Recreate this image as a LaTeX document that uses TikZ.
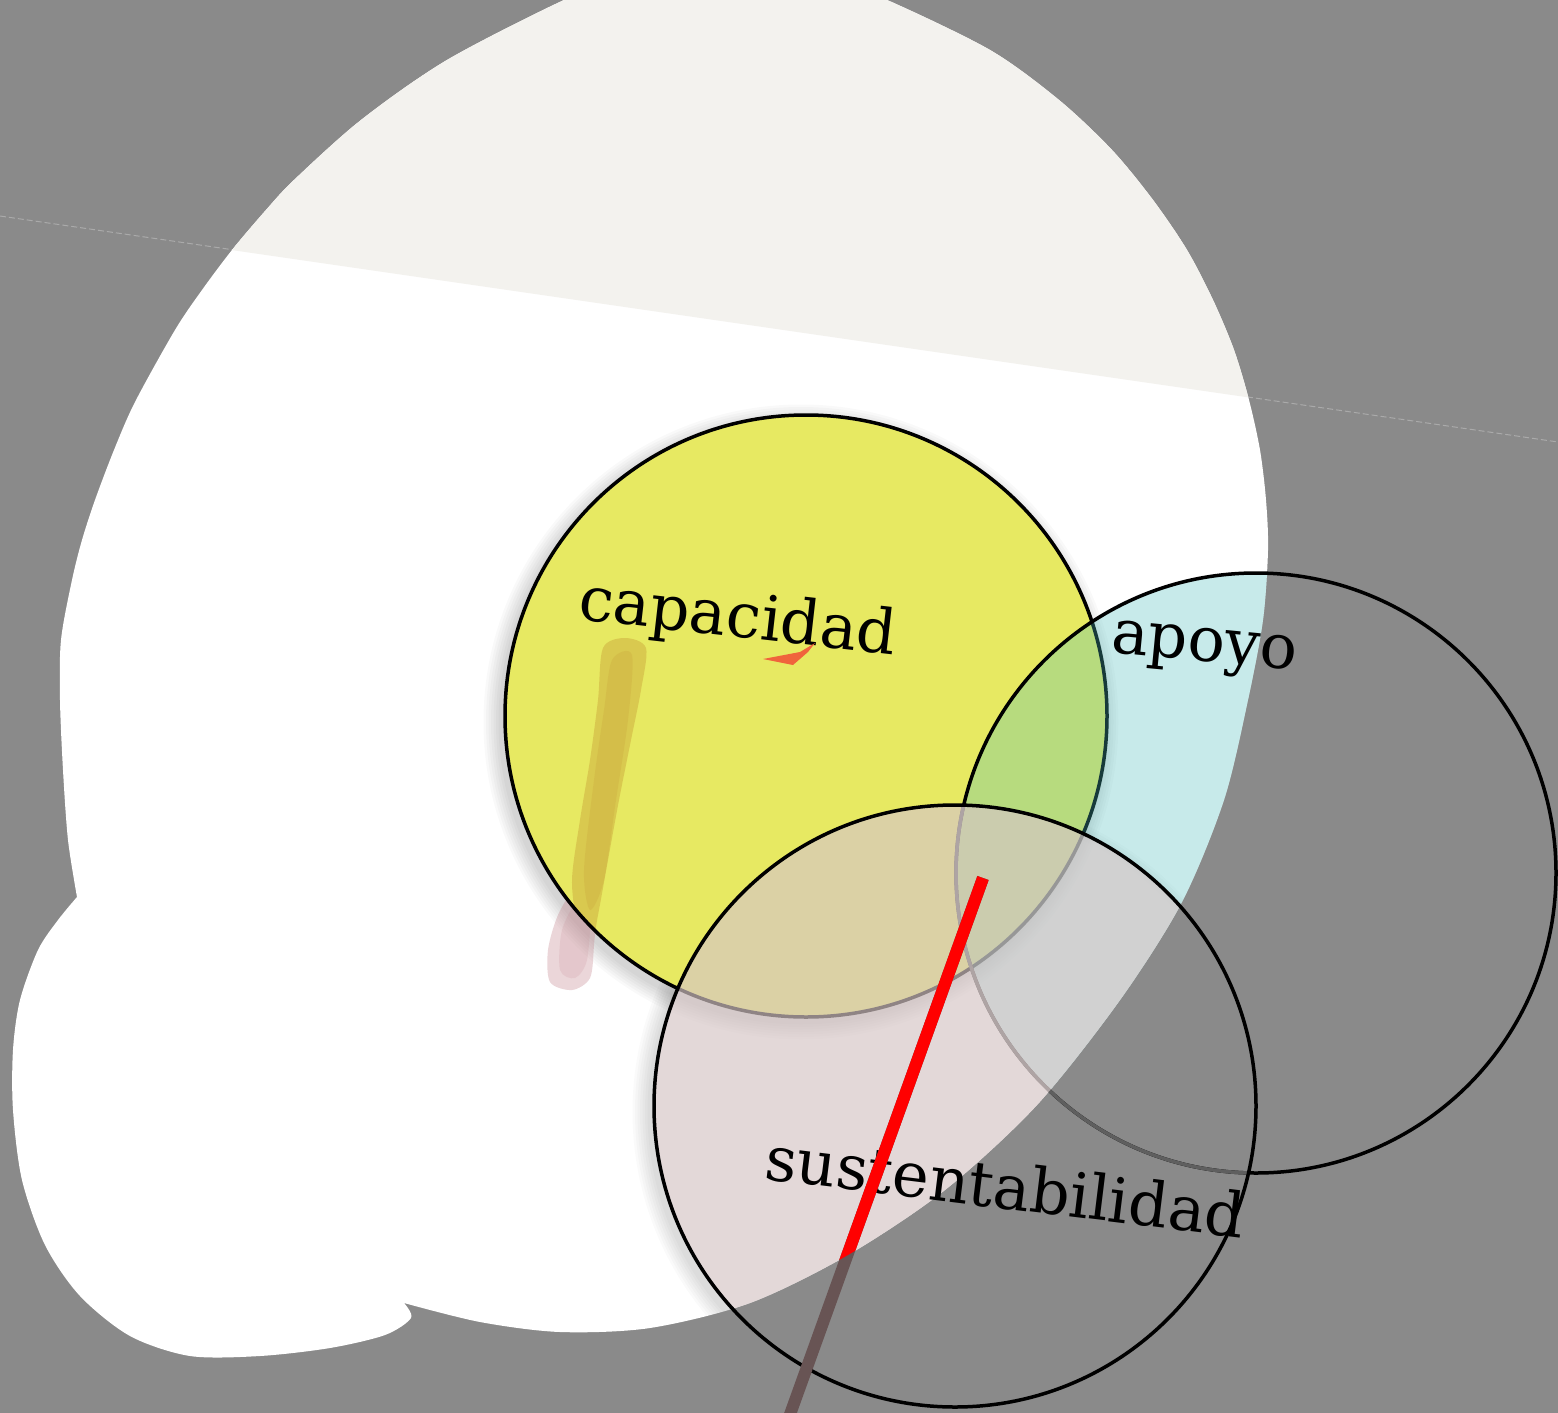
\documentclass[tikz,border=0pt]{standalone}
\usepackage{fontspec}
\setmainfont{DejaVu Serif}
\usetikzlibrary{calc}
\definecolor{bggray}{RGB}{138,138,138}
\definecolor{offw}{RGB}{243,242,238}
\definecolor{capy}{RGB}{231,233,98}
\definecolor{apc}{RGB}{77,190,190}
\definecolor{susc}{RGB}{214,198,198}
\definecolor{redl}{RGB}{255,0,0}
\definecolor{brownl}{RGB}{104,84,84}
\definecolor{dashc}{RGB}{170,170,170}
\definecolor{smudgey}{RGB}{195,150,50}
\definecolor{smudgep}{RGB}{190,120,130}
\definecolor{sliver}{RGB}{240,100,60}
\definecolor{innerarc}{RGB}{95,95,95}
\newcommand\blobshape{(77,897) -- plot[smooth] coordinates {(77,897) (68,840) (63,770) (60,700) (61,640) (72,580) (82,540) (95,500) (114,450) (135,402) (175,330) (202,290) (232,250) (266,210) (294,180) (361,120) (447,60) (564,0) (624,-22) (688,-38) (768,-30) (840,-15) (887,0) (990,50) (1059,100) (1112,150) (1153,200) (1187,250) (1213,300) (1234,350) (1249,400) (1260,450) (1266,500) (1268,550) (1263,620) (1248,700) (1224,800) (1182,902) (1120,1000) (1037,1105) (945,1190) (848,1255) (750,1303) (650,1328) (560,1332) (480,1322) (404,1303)} -- plot[smooth] coordinates {(404,1303) (411,1318) (385,1335) (330,1348) (260,1356) (190,1356) (130,1336) (80,1296) (45,1245) (22,1180) (13,1110) (13,1050) (20,1000) (38,950) (58,920) (77,897)} -- cycle}
\tikzset{
  lbl/.style={font=\fontsize{62}{74}\selectfont, inner sep=0pt, text=black, anchor=base west},
  ring/.style={line width=3.5pt, draw=black},
}
\begin{document}
\begin{tikzpicture}[x=1pt, y=-1pt]
\useasboundingbox (0,0) rectangle (1558,1413);
\fill[bggray] (0,0) rectangle (1558,1413);
\draw[dashc, line width=1pt, dash pattern=on 6pt off 3pt] (0,216) -- (1558,442);
\fill[white] \blobshape;
\coordinate (cap) at (806,716);
\coordinate (apo) at (1256,873);
\coordinate (sus) at (955,1106);
\coordinate (rtop) at (983,878);
\coordinate (rbot) at (788,1420);
\begin{scope}
  \clip \blobshape;
  \fill[offw] (-10,-60) -- (1570,-60) -- (1570,444) -- (-10,215) -- cycle;
  % soft shadows (rings only)
  \foreach \i in {1,...,7} {
    \fill[black, opacity=0.022, even odd rule] ($(cap)+(-5,6)$) circle ({300+2.5*\i}) (cap) circle (300);
    \fill[black, opacity=0.018, even odd rule] ($(sus)+(-5,6)$) circle ({300+2.5*\i}) (sus) circle (300);
  }
  % pink smudge below the yellow circle
  \fill[smudgep, opacity=0.3] plot[smooth cycle] coordinates {(575,890) (596,900) (594,945) (590,978) (572,990) (550,982) (548,950) (558,915)};
  \fill[smudgep, opacity=0.15] plot[smooth cycle] coordinates {(578,900) (590,910) (587,960) (575,978) (560,970) (562,930)};
\end{scope}
% yellow circle
\fill[capy] (cap) circle (301);
\begin{scope}
  \clip (cap) circle (301);
  \fill[smudgey, opacity=0.38] plot[smooth cycle] coordinates {(603,648) (625,638) (646,648) (641,690) (631,740) (619,800) (608,860) (598,915) (592,940) (578,925) (572,880) (580,820) (590,760) (598,700)};
  \fill[smudgey, opacity=0.2] plot[smooth cycle] coordinates {(612,660) (632,655) (628,720) (616,800) (604,880) (590,910) (584,870) (594,780) (604,710)};
\end{scope}
\draw[ring] (cap) circle (301);
% apoyo circle
\begin{scope}
  \clip \blobshape;
  \fill[apc, opacity=0.31] (apo) circle (300);
\end{scope}
\draw[ring] (apo) circle (300);
\begin{scope}
  \clip (sus) circle (301);
  \draw[line width=3.5pt, draw=innerarc] (apo) circle (300);
\end{scope}
% sustentabilidad circle
\begin{scope}
  \clip \blobshape;
  \fill[susc, opacity=0.67] (sus) circle (301);
\end{scope}
\draw[ring] (sus) circle (301);
% labels
\node[lbl, rotate=-6.5] (tcap) at (577,619) {capacidad};
\node[lbl, rotate=-5.5] (tapo) at (1110,652) {apoyo};
\node[lbl, rotate=-7] (tsus) at (763,1179) {sustentabilidad};
% red marker
\fill[sliver] (763,659) -- (800,652) -- (815,643) -- (808,652) -- (793,665) -- cycle;
\draw[brownl, line width=12pt] (rtop) -- (rbot);
\begin{scope}
  \clip \blobshape;
  \draw[redl, line width=12pt] (rtop) -- (rbot);
\end{scope}
\end{tikzpicture}
\end{document}
